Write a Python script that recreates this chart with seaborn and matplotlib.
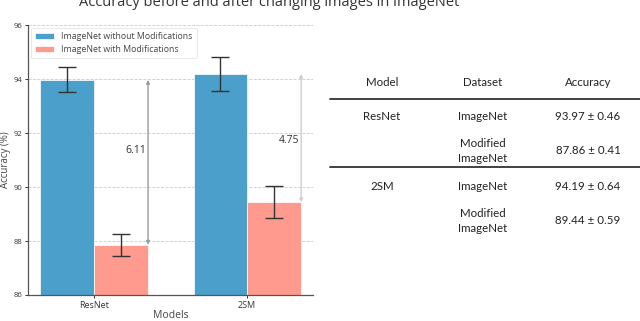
"""Accuracy before and after changing images in ImageNet: bars plus a small results table."""

import matplotlib
matplotlib.use("Agg")
import matplotlib.pyplot as plt
import pandas as pd
import seaborn as sns
from matplotlib.lines import Line2D

models = ["ResNet", "2SM"]
datasets = ["ImageNet without Modifications", "ImageNet with Modifications"]
accuracy_plain = [93.97, 94.19]
accuracy_modified = [87.86, 89.44]
std_plain = [0.46, 0.64]
std_modified = [0.41, 0.59]

table_models = ["ResNet", "", "2SM", ""]
table_datasets = ["ImageNet", "Modified\nImageNet", "ImageNet", "Modified\nImageNet"]
table_accuracy = ["93.97 ± 0.46", "87.86 ± 0.41", "94.19 ± 0.64", "89.44 ± 0.59"]

COLORS = {datasets[0]: "#4a9fcb", datasets[1]: "#ff9a8e"}

sns.set_theme(style="ticks")
plt.rcParams["font.family"] = ["Open Sans", "DejaVu Sans"]

df = pd.DataFrame(
    {
        "model": models * 2,
        "dataset": [datasets[0]] * 2 + [datasets[1]] * 2,
        "accuracy": accuracy_plain + accuracy_modified,
        "std": std_plain + std_modified,
    }
)

fig = plt.figure(figsize=(6.4, 3.21), dpi=100)
ax = fig.add_axes([0.044, 0.081, 0.445, 0.841])

sns.barplot(
    data=df, x="model", y="accuracy", hue="dataset", order=models, hue_order=datasets,
    palette=COLORS, width=0.7, errorbar=None, saturation=1, edgecolor="white",
    linewidth=0.5, ax=ax,
)

# error bars on top of the bars seaborn drew
for container, hue_name in zip(ax.containers, datasets):
    sub = df[df["dataset"] == hue_name].set_index("model").loc[models]
    centers = [bar.get_x() + bar.get_width() / 2 for bar in container]
    ax.errorbar(centers, sub["accuracy"], yerr=sub["std"], fmt="none",
                ecolor="#333333", elinewidth=1.0, capsize=6.5, capthick=1.0, zorder=4)

# difference arrows at the right edge of each group
arrow_colors = ["#9a9a9a", "#cfcfcf"]
for i, (hi, lo) in enumerate(zip(accuracy_plain, accuracy_modified)):
    x = i + 0.353
    ax.annotate("", xy=(x, lo), xytext=(x, hi),
                arrowprops=dict(arrowstyle="<|-|>", color=arrow_colors[i], lw=1.0,
                                mutation_scale=5, shrinkA=0, shrinkB=0))
    ax.text(x - 0.01, (hi + lo) / 2 + (0.45 if i == 0 else -0.1), f"{hi - lo:.2f}",
            ha="right", va="center", fontsize=7.5, color="#333333")

ax.set_ylim(86, 96)
ax.set_yticks([86, 88, 90, 92, 94, 96])
ax.set_xlim(-0.43, 1.43)
ax.yaxis.grid(True, linestyle="--", color="#cccccc", linewidth=0.6)
ax.set_axisbelow(True)
sns.despine(ax=ax)
for side in ("left", "bottom"):
    ax.spines[side].set_color("#555555")
    ax.spines[side].set_linewidth(0.9)
ax.tick_params(axis="y", labelsize=5.5, length=2.5, width=0.7, pad=1.5, colors="#333333")
ax.tick_params(axis="x", labelsize=6.5, length=2.5, width=0.7, pad=2, colors="#333333")
ax.set_xlabel("Models", fontsize=7.5, color="#444444", labelpad=0)
ax.set_ylabel("Accuracy (%)", fontsize=7, color="#444444", labelpad=2)

legend = ax.legend(loc="upper left", fontsize=6.3, frameon=True, handlelength=2.2,
                   handleheight=0.6, borderpad=0.5, labelspacing=0.45,
                   bbox_to_anchor=(0.0, 1.0), borderaxespad=0.3)
legend.get_frame().set_edgecolor("#dddddd")
legend.get_frame().set_linewidth(0.6)
for t in legend.get_texts():
    t.set_color("#444444")

fig.text(0.421, 0.982, "Accuracy before and after changing images in ImageNet",
         ha="center", va="baseline", fontsize=10.5, color="#333333")

# results table drawn in pixel coordinates of the right half
tab = fig.add_axes([0.5, 0.0, 0.5, 1.0])
tab.set_xlim(320, 640)
tab.set_ylim(321, 0)
tab.axis("off")
font_tab = dict(fontsize=8.3, color="#222222", ha="center", va="center", family=["Lato", "DejaVu Sans"])
col_x = [382, 483, 588]
tab.text(col_x[0], 83, "Model", **font_tab)
tab.text(col_x[1], 83, "Dataset", **font_tab)
tab.text(col_x[2], 83, "Accuracy", **font_tab)
row_y = [116, 151, 186, 221]
for y, m, d, a in zip(row_y, table_models, table_datasets, table_accuracy):
    tab.text(col_x[0], y, m, **font_tab)
    tab.text(col_x[1], y, d, linespacing=1.35, **font_tab)
    tab.text(col_x[2], y, a, **font_tab)
tab.add_line(Line2D([330, 640], [99, 99], color="#333333", lw=1.3))
tab.add_line(Line2D([330, 640], [167, 167], color="#333333", lw=1.3))

fig.savefig("out.png", dpi=100)
